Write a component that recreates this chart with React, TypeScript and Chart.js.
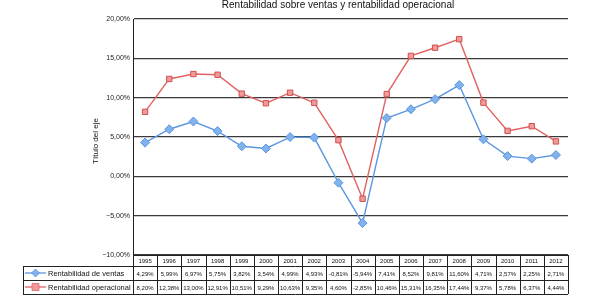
import React, { useEffect, useRef } from "react";
import { Chart, registerables } from "chart.js";

Chart.register(...registerables);

const years = ["1995","1996","1997","1998","1999","2000","2001","2002","2003","2004","2005","2006","2007","2008","2009","2010","2011","2012"];
const ventas = [4.29,5.99,6.97,5.75,3.82,3.54,4.99,4.93,-0.81,-5.94,7.41,8.52,9.81,11.60,4.71,2.57,2.25,2.71];
const operacional = [8.20,12.38,13.00,12.91,10.51,9.29,10.63,9.35,4.60,-2.85,10.46,15.31,16.35,17.44,9.37,5.78,6.37,4.44];
const seriesNames = ["Rentabilidad de ventas", "Rentabilidad operacional"];
const titleText = "Rentabilidad sobre ventas y rentabilidad operacional";
const yTitle = "Título del eje";

const BLUE_LINE = "#5b97e0";
const BLUE_FILL = "#82b2ee";
const RED_LINE = "#e06262";
const RED_FILL = "#f29a9a";
const FONT = "'Liberation Sans', Arial, sans-serif";

const fmt = (v: number) => v.toFixed(2).replace(".", ",") + "%";

export default function App() {
  const ref = useRef<HTMLCanvasElement | null>(null);
  useEffect(() => {
    const canvas = ref.current!;
    const tablePlugin = {
      id: "tablePlugin",
      afterDraw(chart: any) {
        const ctx = chart.ctx as CanvasRenderingContext2D;
        const xs = chart.scales.x;
        const area = chart.chartArea;
        const n = years.length;
        const w = (area.right - area.left) / n;
        const top = area.bottom;
        const r1 = top + 11;
        const r2 = r1 + 14;
        const r3 = r2 + 14;
        const legLeft = 23;
        ctx.save();
        // title
        ctx.fillStyle = "#111";
        ctx.font = `10px ${FONT}`;
        ctx.textAlign = "center";
        ctx.textBaseline = "middle";
        ctx.fillText(titleText, 338, 5);
        // y title
        ctx.save();
        ctx.translate(96, 141);
        ctx.rotate(-Math.PI / 2);
        ctx.font = `8px ${FONT}`;
        ctx.fillText(yTitle, 0, 0);
        ctx.restore();
        // grid lines of table
        ctx.strokeStyle = "#222";
        ctx.lineWidth = 1;
        ctx.beginPath();
        [r1, r2, r3].forEach((y) => {
          ctx.moveTo(legLeft, Math.round(y) + 0.5);
          ctx.lineTo(area.right, Math.round(y) + 0.5);
        });
        ctx.moveTo(area.left, Math.round(top) + 0.5);
        ctx.lineTo(area.right, Math.round(top) + 0.5);
        ctx.moveTo(legLeft + 0.5, r1);
        ctx.lineTo(legLeft + 0.5, r3);
        for (let i = 0; i <= n; i++) {
          const x = Math.round(area.left + i * w) + 0.5;
          ctx.moveTo(x, top);
          ctx.lineTo(x, r3);
        }
        ctx.stroke();
        // category labels and values
        ctx.fillStyle = "#111";
        ctx.textAlign = "center";
        ctx.font = `6px ${FONT}`;
        for (let i = 0; i < n; i++) {
          const cx = xs.getPixelForValue(i);
          ctx.fillText(years[i], cx, (top + r1) / 2 + 0.5);
          ctx.fillText(fmt(ventas[i]), cx, (r1 + r2) / 2 + 1);
          ctx.fillText(fmt(operacional[i]), cx, (r2 + r3) / 2 + 1);
        }
        // legend
        const rows = [
          { y: (r1 + r2) / 2, line: BLUE_LINE, fill: BLUE_FILL, diamond: true, label: seriesNames[0] },
          { y: (r2 + r3) / 2, line: RED_LINE, fill: RED_FILL, diamond: false, label: seriesNames[1] },
        ];
        rows.forEach((r) => {
          ctx.strokeStyle = r.line;
          ctx.lineWidth = 1.3;
          ctx.beginPath();
          ctx.moveTo(legLeft + 2, r.y);
          ctx.lineTo(legLeft + 23, r.y);
          ctx.stroke();
          ctx.fillStyle = r.fill;
          ctx.beginPath();
          const mx = legLeft + 12.5;
          if (r.diamond) {
            ctx.moveTo(mx, r.y - 4);
            ctx.lineTo(mx + 4, r.y);
            ctx.lineTo(mx, r.y + 4);
            ctx.lineTo(mx - 4, r.y);
            ctx.closePath();
          } else {
            ctx.rect(mx - 3.5, r.y - 3.5, 7, 7);
          }
          ctx.fill();
          ctx.lineWidth = 0.8;
          ctx.stroke();
          ctx.fillStyle = "#111";
          ctx.textAlign = "left";
          ctx.font = `7.5px ${FONT}`;
          ctx.fillText(r.label, legLeft + 25, r.y + 0.5);
        });
        ctx.restore();
      },
    };
    const chart = new Chart(canvas, {
      type: "line",
      data: {
        labels: years,
        datasets: [
          {
            label: seriesNames[0],
            data: ventas,
            borderColor: BLUE_LINE,
            backgroundColor: BLUE_FILL,
            pointBackgroundColor: BLUE_FILL,
            pointBorderColor: BLUE_LINE,
            pointStyle: "rectRot",
            pointRadius: 4.5,
            pointBorderWidth: 1,
            borderWidth: 1.4,
            tension: 0,
          },
          {
            label: seriesNames[1],
            data: operacional,
            borderColor: RED_LINE,
            backgroundColor: RED_FILL,
            pointBackgroundColor: RED_FILL,
            pointBorderColor: "#d05050",
            pointStyle: "rect",
            pointRadius: 3.8,
            pointBorderWidth: 1,
            borderWidth: 1.4,
            tension: 0,
          },
        ],
      },
      options: {
        animation: false,
        responsive: false,
        maintainAspectRatio: false,
        devicePixelRatio: 1,
        layout: { padding: { left: 0, right: 21, top: 19, bottom: 46 } },
        plugins: {
          legend: { display: false },
          title: { display: false },
          tooltip: { enabled: false },
        },
        scales: {
          x: {
            type: "category",
            display: false,
            offset: true,
          },
          y: {
            min: -10,
            max: 20,
            afterFit: (s: any) => {
              s.width = 133;
            },
            ticks: {
              stepSize: 5,
              padding: 3,
              color: "#222",
              font: { size: 7, family: FONT },
              callback: (v: any) => {
                const n = Number(v);
                const s = Math.abs(n).toFixed(2).replace(".", ",") + "%";
                return n < 0 ? "\u2212" + s : s;
              },
            },
            grid: {
              color: "#3a3a3a",
              lineWidth: 1.2,
              drawTicks: false,
            },
            border: { display: true, color: "#222", width: 1 },
          },
        },
      },
      plugins: [tablePlugin],
    } as any);
    return () => chart.destroy();
  }, []);
  return (
    <div style={{ position: "fixed", left: 0, top: 0, width: 589, height: 301, background: "#fff" }}>
      <canvas ref={ref} width={589} height={301} style={{ width: 589, height: 301, display: "block" }} />
    </div>
  );
}
